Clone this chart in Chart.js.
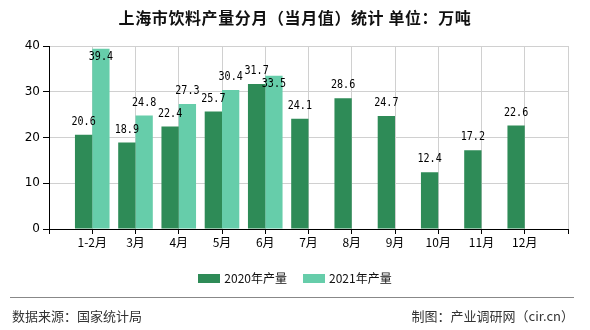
<!DOCTYPE html>
<html>
<head>
<meta charset="utf-8">
<script src="https://cdn.jsdelivr.net/npm/chart.js@4.4.0/dist/chart.umd.min.js"></script>
<style>
  body { margin: 0; background: #fff; font-family: "Noto Sans CJK SC", sans-serif; }
  #wrap { position: relative; width: 590px; height: 330px; overflow: hidden; }
  #title { position: absolute; left: 0; top: 6px; width: 590px; text-align: center; font-size: 16px; font-weight: bold; letter-spacing: 0.6px; color: #111; line-height: 22px; }
  #legend { position: absolute; left: 0; top: 269px; width: 590px; display: flex; justify-content: center; font-size: 12px; color: #111; line-height: 18px; }
  #legend span.item { display: flex; align-items: center; margin: 0 8px; }
  #legend span.box { display: inline-block; width: 22px; height: 9px; margin-right: 4px; }
  #rule { position: absolute; left: 10px; top: 297px; width: 564px; height: 0; border-top: 1px solid #888; }
  .foot { position: absolute; top: 306px; font-size: 13px; color: #333; line-height: 20px; }
  canvas { position: absolute; left: 0; top: 0; }
</style>
</head>
<body>
<div id="wrap">
  <canvas id="c" width="590" height="330"></canvas>
  <div id="title">上海市饮料产量分月（当月值）统计 单位：万吨</div>
  <div id="legend"></div>
  <div id="rule"></div>
  <div class="foot" style="left:12px">数据来源：国家统计局</div>
  <div class="foot" style="right:16px">制图：产业调研网（cir.cn）</div>
</div>
<script>
// categories (empty slots at both ends so the bars sit on the grid lines)
const months = ['1-2月', '3月', '4月', '5月', '6月', '7月', '8月', '9月', '10月', '11月', '12月'];
const output2020 = [20.6, 18.9, 22.4, 25.7, 31.7, 24.1, 28.6, 24.7, 12.4, 17.2, 22.6];
const output2021 = [39.4, 24.8, 27.3, 30.4, 33.5, null, null, null, null, null, null];
const seriesNames = ['2020年产量', '2021年产量'];
const seriesColors = ['#2e8b57', '#66cdaa'];
const yTicks = [0, 10, 20, 30, 40];

const labels = [''].concat(months, ['']);
const pad = arr => [null].concat(arr, [null]);

// value labels above the bars, pushed inside when they would clash
const valueLabels = {
  id: 'valueLabels',
  afterDatasetsDraw(chart) {
    const ctx = chart.ctx;
    const area = chart.chartArea;
    const squeeze = 0.84;
    const placed = [];
    ctx.save();
    ctx.font = '12px "DejaVu Sans Mono", monospace';
    ctx.fillStyle = '#000';
    ctx.textAlign = 'center';
    ctx.textBaseline = 'middle';
    chart.data.datasets.forEach((ds, di) => {
      chart.getDatasetMeta(di).data.forEach((bar, i) => {
        const v = ds.data[i];
        if (v == null) return;
        const txt = v.toFixed(1);
        const w = ctx.measureText(txt).width * squeeze;
        let y = bar.y - 13;
        const clash = placed.some(p => Math.abs(p.x - bar.x) < (p.w + w) / 2 && Math.abs(p.y - y) < 11);
        if (y - 6 < area.top || clash) y = bar.y + 8;
        placed.push({ x: bar.x, y: y, w: w });
        ctx.save();
        ctx.translate(bar.x, y);
        ctx.scale(squeeze, 1);
        ctx.fillText(txt, 0, 0);
        ctx.restore();
      });
    });
    ctx.restore();
  }
};

const chart = new Chart(document.getElementById('c'), {
  type: 'bar',
  data: {
    labels: labels,
    datasets: seriesNames.map((name, k) => ({
      label: name,
      data: pad(k === 0 ? output2020 : output2021),
      backgroundColor: seriesColors[k],
      categoryPercentage: 0.8,
      barPercentage: 1.0
    }))
  },
  options: {
    responsive: false,
    animation: false,
    layout: { padding: { left: 0, right: 22, top: 46, bottom: 71 } },
    plugins: {
      legend: { display: false },
      title: { display: false },
      tooltip: { enabled: false }
    },
    scales: {
      x: {
        offset: false,
        grid: { offset: false, color: '#d0d0d0', tickColor: '#000', tickLength: 5 },
        border: { color: '#000', width: 1 },
        ticks: { color: '#000', font: { size: 12, family: '"Noto Sans CJK SC", sans-serif' }, padding: 1, maxRotation: 0, autoSkip: false },
        afterFit(s) { s.height = 30; }
      },
      y: {
        min: 0,
        max: 40,
        afterBuildTicks(s) { s.ticks = yTicks.map(v => ({ value: v })); },
        grid: { color: '#d0d0d0', tickColor: '#000', tickLength: 6 },
        border: { color: '#000', width: 1 },
        ticks: { color: '#000', font: { size: 12, family: '"DejaVu Sans", sans-serif' }, padding: 3 },
        afterFit(s) { s.width = 49; }
      }
    }
  },
  plugins: [valueLabels]
});

// legend built from the datasets
const legend = document.getElementById('legend');
chart.data.datasets.forEach(ds => {
  const item = document.createElement('span');
  item.className = 'item';
  item.innerHTML = '<span class="box" style="background:' + ds.backgroundColor + '"></span>' + ds.label;
  legend.appendChild(item);
});
</script>
</body>
</html>
